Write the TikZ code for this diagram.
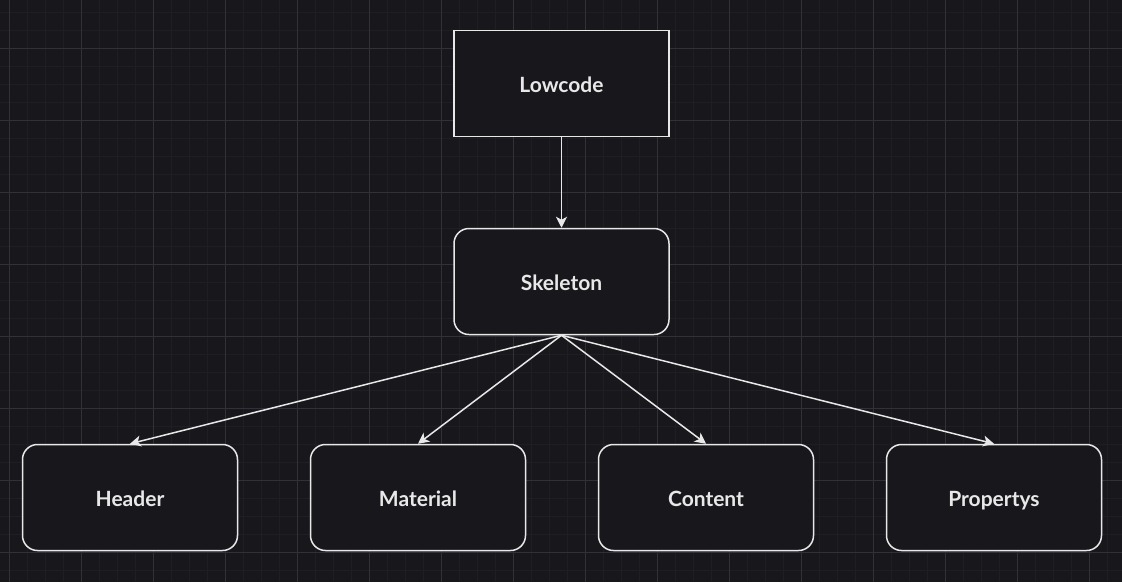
\documentclass[tikz,border=0pt]{standalone}
\usepackage{fontspec}
\setmainfont{Lato}
\usetikzlibrary{arrows.meta}
\definecolor{bgdark}{HTML}{18171C}
\definecolor{gridminor}{HTML}{1F1E23}
\definecolor{gridmajor}{HTML}{323137}
\definecolor{strokelight}{HTML}{E8E8E8}
\tikzset{>={Stealth[length=11pt,width=11pt,inset=3pt]}}
\tikzset{
  block/.style={draw=strokelight, line width=1.5pt, fill=bgdark, minimum width=215pt, minimum height=106pt,
    text=strokelight, text height=18pt, text depth=0pt, font=\fontsize{21}{24}\selectfont\bfseries},
  roundblock/.style={block, rounded corners=15pt},
  link/.style={->, draw=strokelight, line width=1.5pt}
}

\begin{document}
\begin{tikzpicture}[x=1pt, y=-1pt]
\fill [bgdark] (0,0) rectangle (1122,582);
\useasboundingbox (0,0) rectangle (1122,582);
\foreach \x in {9.5,27.5,...,1122} \draw [gridminor, line width=0.8pt] (\x,0) -- (\x,582);
\foreach \y in {12,30,...,582} \draw [gridminor, line width=0.8pt] (0,\y) -- (1122,\y);
\foreach \x in {9.5,81.5,...,1122} \draw [gridmajor, line width=0.8pt] (\x,0) -- (\x,582);
\foreach \y in {48,120,...,582} \draw [gridmajor, line width=0.8pt] (0,\y) -- (1122,\y);
\node [block] (lowcode) at (561.5, 83.5) {Lowcode};
\node [roundblock] (skeleton) at (561.5, 281.5) {Skeleton};
\node [roundblock] (header) at (130, 497.5) {Header};
\node [roundblock] (material) at (418, 497.5) {Material};
\node [roundblock] (content) at (706, 497.5) {Content};
\node [roundblock] (propertys) at (994, 497.5) {Propertys};
\draw [link] (lowcode.south) -- (skeleton.north);
\draw [link] (skeleton.south) -- (header.north);
\draw [link] (skeleton.south) -- (material.north);
\draw [link] (skeleton.south) -- (content.north);
\draw [link] (skeleton.south) -- (propertys.north);
\end{tikzpicture}
\end{document}
